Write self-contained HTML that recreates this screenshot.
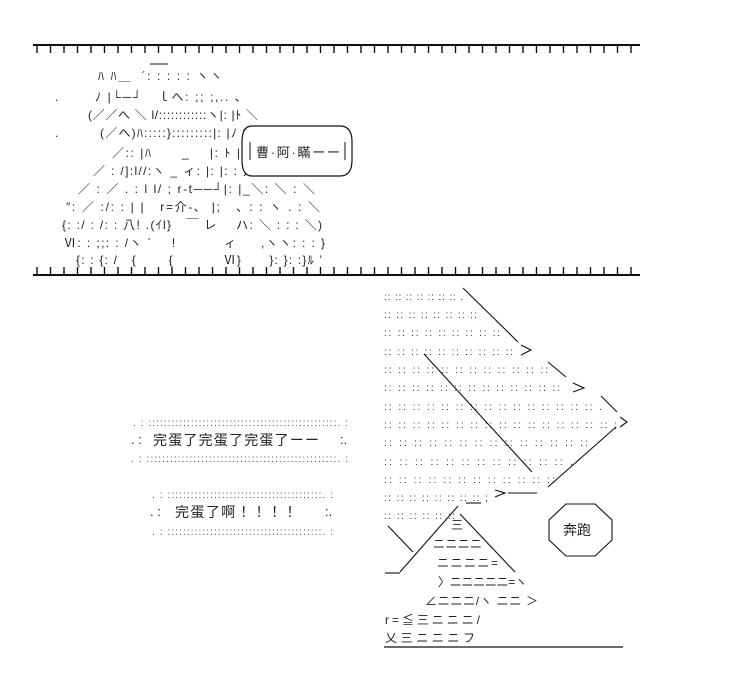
<!DOCTYPE html>
<html><head><meta charset="utf-8"><style>
html,body{margin:0;padding:0;background:#fff;}
svg{display:block;}
text{font-family:"Liberation Sans","Noto Sans CJK JP",sans-serif;fill:#222;white-space:pre;}
.aa{font-size:12px;}
.d{font-size:10px;fill:#444;}
</style></head><body>
<svg width="736" height="694" viewBox="0 0 736 694" xmlns="http://www.w3.org/2000/svg" xml:space="preserve">
<g stroke="#111" stroke-width="2" fill="none">
<line x1="33" y1="45" x2="640" y2="45"/>
<line x1="33" y1="275" x2="640" y2="275"/>
</g>
<g stroke="#111" stroke-width="1.4">
<path id="ticks" d="M37 45V53M50.5 45V53M64 45V53M77.5 45V53M91 45V53M104.5 45V53M118 45V53M131.5 45V53M145 45V53M158.5 45V53M172 45V53M185.5 45V53M199 45V53M212.5 45V53M226 45V53M239.5 45V53M253 45V53M266.5 45V53M280 45V53M293.5 45V53M307 45V53M320.5 45V53M334 45V53M347.5 45V53M361 45V53M374.5 45V53M388 45V53M401.5 45V53M415 45V53M428.5 45V53M442 45V53M455.5 45V53M469 45V53M482.5 45V53M496 45V53M509.5 45V53M523 45V53M536.5 45V53M550 45V53M563.5 45V53M577 45V53M590.5 45V53M604 45V53M617.5 45V53M631 45V53"/>
<use href="#ticks" y="222"/>
</g>
<!-- top AA -->
<line x1="150" y1="64" x2="168" y2="64" stroke="#111"/>
<g class="aa" font-size="13">
<text x="98" y="80" textLength="124" lengthAdjust="spacing">ﾊ ﾊ＿  ´: : : : : ヽヽ</text>
<text x="55" y="101">.</text>
<text x="95" y="101" textLength="146" lengthAdjust="spacing">ﾉ |└─┘   ｌへ: ;; ;,.. ､</text>
<text x="88" y="119" textLength="170" lengthAdjust="spacing">(／／へ ＼ l/::::::::::::ヽ|: |ﾄ ＼</text>
<text x="55" y="137">.</text>
<text x="100" y="137" textLength="146" lengthAdjust="spacing">(／へ)ﾊ:::::}:::::::::|: |ﾉ f</text>
<text x="112" y="157" textLength="128" lengthAdjust="spacing">／:: |ﾊ      _    |: ﾄ |</text>
<text x="93" y="175" textLength="162" lengthAdjust="spacing">／ : /]:l//:ヽ _ ィ: |: |: : 乂</text>
<text x="78" y="193" textLength="237" lengthAdjust="spacing">／ : ／ . : l l/ ; r‐t──┘|: |_＼: ＼ : ＼</text>
<text x="66" y="211" textLength="254" lengthAdjust="spacing">″: ／ :/: : | |   r=介-､  |;   ､ : : ヽ . : ＼</text>
<text x="62" y="229" textLength="260" lengthAdjust="spacing">{: :/ : /: : 八! .(ｲl}   ￣ レ    ハ: ＼ : : : ＼)</text>
<text x="64" y="247" textLength="261" lengthAdjust="spacing">Ⅵ: : ;;: : /ヽ ´    !          ィ     ,ヽヽ: : : }</text>
<text x="76" y="264" textLength="246" lengthAdjust="spacing">{: : {: /   {       {           Ⅵ}      }: }: :}ﾙ ’</text>
</g>
<!-- speech bubble -->
<path d="M252 126 H340 Q352 126 352 142 V160 Q352 176 340 176 H252 Q242 176 242 160 V142 Q242 126 252 126 Z" stroke="#111" stroke-width="1.2" fill="#fff"/>
<line x1="250" y1="142" x2="250" y2="160" stroke="#111"/><line x1="345" y1="142" x2="345" y2="160" stroke="#111"/>
<text x="256" y="157" font-size="13" textLength="84" lengthAdjust="spacing">曹·阿·瞞ーー</text>
<!-- middle left -->
<text class="d" x="133" y="426" textLength="215" lengthAdjust="spacing">. : :::::::::::::::::::::::::::::::::::::::::::::::::. :</text>
<text x="131" y="444" font-size="13">. :</text>
<text x="153" y="445" font-size="14" textLength="166" lengthAdjust="spacing">完蛋了完蛋了完蛋了ーー</text>
<text x="340" y="444" font-size="13">:.</text>
<text class="d" x="131" y="462" textLength="217" lengthAdjust="spacing">. : :::::::::::::::::::::::::::::::::::::::::::::::::. :</text>
<text class="d" x="152" y="498" textLength="181" lengthAdjust="spacing">. : ::::::::::::::::::::::::::::::::::::::::. :</text>
<text x="150" y="516" font-size="13">. :</text>
<text x="175" y="517" font-size="14" textLength="122" lengthAdjust="spacing">完蛋了啊！！！！</text>
<text x="325" y="516" font-size="13">:.</text>
<text class="d" x="152" y="535" textLength="181" lengthAdjust="spacing">. : ::::::::::::::::::::::::::::::::::::::::. :</text>
<!-- right dots -->
<g class="d">
<text x="384" y="300" textLength="79" lengthAdjust="spacing">:: :: :: :: :: :: :: .</text>
<text x="384" y="318" textLength="93" lengthAdjust="spacing">:: :: :: :: :: :: :: ::</text>
<text x="384" y="336" textLength="116" lengthAdjust="spacing">:: :: :: :: :: :: :: :: ::</text>
<text x="384" y="355" textLength="129" lengthAdjust="spacing">:: :: :: :: :: :: :: :: :: ::</text>
<text x="384" y="373" textLength="164" lengthAdjust="spacing">:: :: :: :: :: :: :: :: :: :: :: ::</text>
<text x="384" y="391" textLength="176" lengthAdjust="spacing">:: :: :: :: :: :: :: :: :: :: :: :: ::</text>
<text x="384" y="410" textLength="218" lengthAdjust="spacing">:: :: :: :: :: :: :: :: :: :: :: :: :: :: :: .</text>
<text x="384" y="428" textLength="233" lengthAdjust="spacing">:: :: :: :: :: :: :: :: :: :: :: :: :: :: :: :: ;</text>
<text x="384" y="446" textLength="204" lengthAdjust="spacing">:: :: :: :: :: :: :: :: :: :: :: :: :: ::</text>
<text x="384" y="465" textLength="189" lengthAdjust="spacing">:: :: :: :: :: :: :: :: :: :: :: :: .</text>
<text x="384" y="483" textLength="171" lengthAdjust="spacing">:: :: :: :: :: :: :: :: :: :: :: ::</text>
<text x="384" y="501" textLength="104" lengthAdjust="spacing">:: :: :: :: :: :: :: :: ;</text>
<text x="384" y="519" textLength="71" lengthAdjust="spacing">:: :: :: :: :: ::</text>
</g>
<g stroke="#111" stroke-width="1.1" fill="none">
<line x1="463" y1="288" x2="518" y2="342"/>
<path d="M521 345 L531 350 L521 355"/>
<line x1="548" y1="362" x2="566" y2="377"/>
<path d="M573 383 L584 388 L573 392"/>
<line x1="601" y1="396" x2="617" y2="412"/>
<path d="M620 417 L627 422 L620 427"/>
<line x1="616" y1="427" x2="548" y2="487"/>
<line x1="424" y1="354" x2="532" y2="472"/>
<path d="M495 490 L505 493 L495 497"/>
<line x1="508" y1="493" x2="537" y2="493"/>
<line x1="466" y1="503" x2="481" y2="503"/>
<line x1="458" y1="506" x2="400" y2="572"/>
<line x1="460" y1="514" x2="515" y2="572"/>
<line x1="388" y1="526" x2="413" y2="552"/>
<line x1="385" y1="573" x2="400" y2="573"/>
<line x1="384" y1="647" x2="623" y2="647" stroke-width="1.3"/>
<polygon points="566,504 595,504 612,520 612,540 595,556 566,556 549,540 549,520"/>
</g>
<g class="aa" font-size="13">
<text x="451" y="529">三</text>
<text x="433" y="548" textLength="49" lengthAdjust="spacing">ニニニニ</text>
<text x="437" y="567" textLength="61" lengthAdjust="spacing">ニニニニ=</text>
<text x="438" y="586" textLength="89" lengthAdjust="spacing">〉ニニニニニ=ヽ</text>
<text x="425" y="605" textLength="113" lengthAdjust="spacing">∠ニニニ/ヽ ニニ ＞</text>
<text x="385" y="624" textLength="95" lengthAdjust="spacing">r=≦三ニニニ/</text>
<text x="385" y="642" textLength="90" lengthAdjust="spacing">乂三ニニニフ</text>
</g>
<text x="563" y="535" font-size="14">奔跑</text>
</svg>
</body></html>
